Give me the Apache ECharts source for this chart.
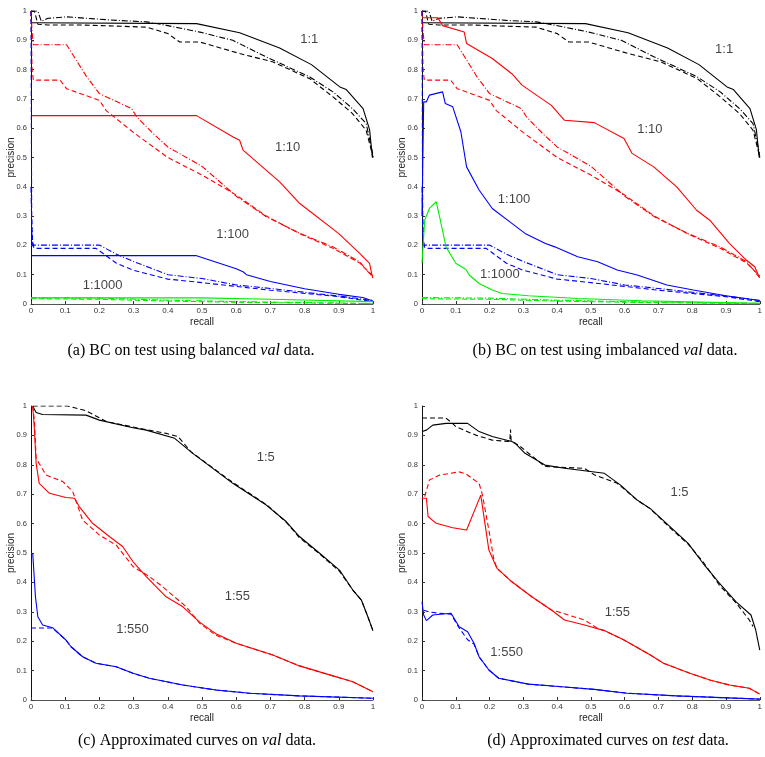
<!DOCTYPE html>
<html><head><meta charset="utf-8">
<script src="https://cdn.jsdelivr.net/npm/echarts@6/dist/echarts.min.js"></script>
<style>html,body{margin:0;padding:0;background:#fff}#c{width:765px;height:757px}</style>
</head><body><div id="c"></div>
<script>
// ---- tick labels ----
const xTicks = [0,0.1,0.2,0.3,0.4,0.5,0.6,0.7,0.8,0.9,1];
const yTicks = [0,0.1,0.2,0.3,0.4,0.5,0.6,0.7,0.8,0.9,1];

// ---- panels (a),(b): shared curves ----
const bcBlackSolid = [[0,0.96],[0.484,0.957],[0.61,0.926],[0.727,0.874],[0.82,0.817],[0.903,0.741],[0.922,0.732],[0.971,0.667],[0.99,0.595],[0.998,0.502],[1,0.5]];
const bcBlackDash = [[0,1],[0.01,1],[0.02,0.955],[0.05,0.952],[0.15,0.952],[0.338,0.945],[0.40,0.923],[0.435,0.894],[0.494,0.894],[0.61,0.855],[0.708,0.826],[0.815,0.769],[0.883,0.707],[0.94,0.65],[0.98,0.593],[0.995,0.525],[1,0.5]];
const bcBlackDashDot = [[0,1],[0.02,1],[0.03,0.965],[0.05,0.975],[0.104,0.98],[0.25,0.968],[0.338,0.963],[0.396,0.951],[0.494,0.928],[0.59,0.9],[0.688,0.843],[0.815,0.775],[0.883,0.724],[0.94,0.667],[0.98,0.616],[0.998,0.52],[1,0.5]];
const bcRedDash = [[0,1],[0.003,0.8],[0.007,0.764],[0.085,0.764],[0.104,0.735],[0.2,0.695],[0.22,0.66],[0.3,0.585],[0.4,0.5],[0.5,0.44],[0.6,0.372],[0.688,0.3],[0.786,0.24],[0.883,0.19],[0.961,0.14],[1,0.095]];
const bcRedDashDot = [[0,1],[0.003,0.93],[0.007,0.885],[0.104,0.885],[0.163,0.775],[0.2,0.718],[0.294,0.667],[0.309,0.639],[0.357,0.582],[0.4,0.536],[0.5,0.47],[0.6,0.368],[0.688,0.298],[0.786,0.241],[0.883,0.195],[0.961,0.144],[1,0.09]];
const bcBlueDash = [[0,1],[0.002,0.3],[0.005,0.2],[0.01,0.19],[0.19,0.19],[0.25,0.139],[0.3,0.115],[0.4,0.085],[0.5,0.073],[0.6,0.06],[0.7,0.047],[0.8,0.036],[0.9,0.025],[1,0.008]];
const bcBlueDashDot = [[0,0.4],[0.003,0.22],[0.007,0.201],[0.2,0.201],[0.25,0.17],[0.3,0.145],[0.4,0.1],[0.5,0.087],[0.6,0.065],[0.7,0.053],[0.8,0.04],[0.9,0.027],[1,0.012]];
const bcGreenDash = [[0,0.018],[0.2,0.016],[0.4,0.01],[0.6,0.006],[1,0.001]];
const bcGreenDashDot = [[0,0.022],[0.2,0.02],[0.4,0.013],[0.6,0.008],[1,0.002]];
// panel (a) solid curves
const aRedSolid = [[0,0.643],[0.484,0.643],[0.591,0.57],[0.61,0.559],[0.62,0.525],[0.727,0.417],[0.786,0.343],[0.9,0.24],[0.961,0.173],[0.99,0.139],[0.998,0.093],[1,0.09]];
const aBlueSolid = [[0,0.165],[0.484,0.165],[0.6,0.12],[0.62,0.11],[0.63,0.1],[0.7,0.077],[0.8,0.052],[0.9,0.033],[0.97,0.022],[1,0.01]];
const aGreenSolid = [[0,0.021],[0.5,0.021],[0.7,0.016],[1,0.008]];
// panel (b) solid curves
const bRedSolid = [[0,0.977],[0.047,0.977],[0.061,0.95],[0.125,0.928],[0.132,0.889],[0.208,0.838],[0.266,0.786],[0.296,0.747],[0.383,0.678],[0.422,0.627],[0.51,0.619],[0.598,0.565],[0.622,0.514],[0.686,0.468],[0.754,0.4],[0.813,0.32],[0.852,0.286],[0.91,0.207],[0.96,0.15],[0.985,0.127],[0.998,0.093],[1,0.09]];
const bBlueSolid = [[0,0.3],[0.005,0.69],[0.013,0.69],[0.022,0.713],[0.061,0.724],[0.069,0.684],[0.091,0.673],[0.115,0.588],[0.132,0.468],[0.169,0.389],[0.208,0.326],[0.266,0.275],[0.305,0.241],[0.364,0.207],[0.393,0.195],[0.461,0.161],[0.52,0.144],[0.578,0.116],[0.637,0.099],[0.725,0.065],[0.803,0.048],[0.9,0.028],[1,0.012]];
const bGreenSolid = [[0,0.139],[0.008,0.286],[0.022,0.326],[0.042,0.349],[0.052,0.298],[0.071,0.195],[0.1,0.139],[0.13,0.118],[0.14,0.099],[0.169,0.07],[0.208,0.048],[0.237,0.036],[0.315,0.028],[0.461,0.019],[0.65,0.011],[1,0.002]];

// ---- panel (c) ----
const cBlackSolid = [[0.005,1],[0.015,0.978],[0.034,0.971],[0.161,0.969],[0.2,0.952],[0.298,0.926],[0.337,0.918],[0.42,0.89],[0.473,0.839],[0.59,0.737],[0.688,0.663],[0.746,0.607],[0.785,0.556],[0.844,0.499],[0.902,0.442],[0.941,0.374],[0.966,0.34],[0.985,0.283],[1,0.235]];
const cBlackDash = [[0.005,1],[0.107,1],[0.161,0.984],[0.22,0.947],[0.317,0.924],[0.395,0.907],[0.43,0.896],[0.468,0.844],[0.59,0.74],[0.688,0.665],[0.746,0.605],[0.785,0.552],[0.844,0.497],[0.902,0.438],[0.941,0.374],[0.966,0.34],[0.985,0.283],[1,0.235]];
const cRedSolid = [[0.005,1],[0.007,0.97],[0.01,0.918],[0.015,0.805],[0.024,0.737],[0.054,0.703],[0.102,0.689],[0.127,0.686],[0.141,0.658],[0.18,0.601],[0.229,0.556],[0.268,0.522],[0.298,0.471],[0.337,0.42],[0.395,0.351],[0.444,0.317],[0.493,0.265],[0.541,0.225],[0.6,0.193],[0.707,0.153],[0.785,0.116],[0.883,0.082],[0.941,0.062],[1,0.028]];
const cRedDash = [[0.005,1],[0.01,0.95],[0.015,0.822],[0.044,0.765],[0.093,0.743],[0.122,0.709],[0.151,0.612],[0.2,0.561],[0.249,0.527],[0.268,0.499],[0.298,0.454],[0.346,0.42],[0.385,0.385],[0.454,0.317],[0.493,0.261],[0.541,0.22],[0.6,0.193],[0.707,0.153],[0.785,0.116],[0.883,0.082],[0.941,0.062],[1,0.028]];
const cBlueSolid = [[0.005,0.499],[0.01,0.499],[0.013,0.351],[0.02,0.283],[0.034,0.255],[0.063,0.246],[0.102,0.204],[0.117,0.181],[0.151,0.147],[0.19,0.125],[0.249,0.113],[0.298,0.091],[0.346,0.074],[0.444,0.051],[0.541,0.034],[0.639,0.023],[0.785,0.014],[1,0.006]];
const cBlueDash = [[0,0.245],[0.063,0.245],[0.102,0.204],[0.117,0.181],[0.151,0.147],[0.19,0.125],[0.249,0.113],[0.298,0.091],[0.346,0.074],[0.444,0.051],[0.541,0.034],[0.639,0.023],[0.785,0.014],[1,0.006]];

// ---- panel (d) ----
const dBlackSolid = [[0,0.913],[0.013,0.918],[0.032,0.935],[0.071,0.941],[0.135,0.941],[0.169,0.913],[0.208,0.896],[0.266,0.879],[0.276,0.873],[0.305,0.839],[0.364,0.799],[0.422,0.788],[0.54,0.771],[0.588,0.731],[0.637,0.68],[0.676,0.651],[0.735,0.589],[0.788,0.533],[0.832,0.465],[0.881,0.397],[0.93,0.334],[0.974,0.289],[0.988,0.238],[1,0.17]];
const dBlackDash = [[0,0.959],[0.071,0.959],[0.086,0.945],[0.1,0.93],[0.159,0.901],[0.208,0.884],[0.26,0.879],[0.262,0.92],[0.264,0.88],[0.286,0.867],[0.364,0.794],[0.481,0.788],[0.51,0.766],[0.578,0.737],[0.637,0.68],[0.676,0.65],[0.735,0.585],[0.788,0.53],[0.832,0.47],[0.881,0.39],[0.93,0.33],[0.969,0.272],[0.98,0.25]];
const dRedSolid = [[0,0.686],[0.013,0.686],[0.018,0.624],[0.042,0.601],[0.091,0.586],[0.132,0.578],[0.174,0.697],[0.179,0.658],[0.198,0.51],[0.222,0.448],[0.266,0.402],[0.325,0.351],[0.383,0.306],[0.422,0.272],[0.481,0.255],[0.54,0.236],[0.598,0.204],[0.676,0.153],[0.715,0.125],[0.793,0.091],[0.852,0.068],[0.91,0.051],[0.969,0.04],[1,0.02]];
const dRedDash = [[0.008,0.692],[0.022,0.748],[0.052,0.765],[0.11,0.776],[0.13,0.769],[0.169,0.737],[0.179,0.697],[0.198,0.578],[0.213,0.476],[0.222,0.448],[0.266,0.402],[0.325,0.351],[0.383,0.306],[0.403,0.3],[0.481,0.272],[0.52,0.244],[0.54,0.236],[0.598,0.204],[0.676,0.153],[0.715,0.125],[0.793,0.091],[0.852,0.068],[0.91,0.051],[0.969,0.04],[1,0.02]];
const dBlueSolid = [[0,0.334],[0.005,0.289],[0.013,0.27],[0.032,0.289],[0.086,0.295],[0.11,0.249],[0.135,0.232],[0.154,0.193],[0.169,0.147],[0.198,0.102],[0.227,0.074],[0.315,0.054],[0.413,0.045],[0.51,0.036],[0.608,0.023],[0.754,0.014],[1,0.003]];
const dBlueDash = [[0.005,0.305],[0.02,0.3],[0.05,0.295],[0.086,0.292],[0.11,0.245],[0.135,0.205],[0.154,0.19],[0.169,0.147],[0.198,0.102],[0.227,0.074],[0.315,0.054],[0.413,0.045],[0.51,0.036],[0.608,0.023],[0.754,0.014],[1,0.003]];

// ---- curve annotations [x, y, text] ----
const labelsA = [[0.815,0.902,'1:1'],[0.752,0.533,'1:10'],[0.591,0.235,'1:100'],[0.211,0.061,'1:1000']];
const labelsB = [[0.896,0.868,'1:1'],[0.676,0.593,'1:10'],[0.274,0.355,'1:100'],[0.232,0.099,'1:1000']];
const labelsC = [[0.688,0.824,'1:5'],[0.605,0.351,'1:55'],[0.298,0.24,'1:550']];
const labelsD = [[0.764,0.706,'1:5'],[0.58,0.295,'1:55'],[0.252,0.159,'1:550']];

// ---- captions ----
const captions = ['(a) BC on test using balanced {i|val} data.','(b) BC on test using imbalanced {i|val} data.','(c) Approximated curves on {i|val} data.','(d) Approximated curves on {i|test} data.'];

const BLACK='#000000', RED='#ff0000', BLUE='#0000ff', GREEN='#00ee00';
const SOLID='solid', DASH=[5,3], DASHDOT=[6,2,1,2];

const grids = [
  {left:31, top:11, width:342, height:293},
  {left:422, top:11, width:342, height:293},
  {left:31, top:406, width:342, height:294},
  {left:422, top:406, width:342, height:294}
];
const captionPos = [[191,351],[605,351],[197,741],[608,741]];

const xAxes = grids.map((g,i)=>({
  type:'value', gridIndex:i, min:0, max:1, interval:0.1,
  name:'recall', nameLocation:'middle', nameGap:13, nameMoveOverlap:false,
  nameTextStyle:{fontSize:10, color:'#222', fontFamily:'Liberation Sans'},
  axisLine:{lineStyle:{color:'#555', width:1}},
  axisTick:{inside:true, length:3, lineStyle:{color:'#333'}},
  axisLabel:{fontSize:8, color:'#333', margin:3, fontFamily:'Liberation Sans',
    formatter:v=>xTicks.includes(Math.round(v*10)/10)?String(Math.round(v*10)/10):''},
  splitLine:{show:false}
}));
const yAxes = grids.map((g,i)=>({
  type:'value', gridIndex:i, min:0, max:1, interval:0.1,
  name:'precision', nameLocation:'middle', nameGap:15, nameMoveOverlap:false,
  nameTextStyle:{fontSize:10, color:'#222', fontFamily:'Liberation Sans'},
  axisLine:{show:true, lineStyle:{color:'#111', width:1}},
  axisTick:{show:true, inside:true, length:3, lineStyle:{color:'#333'}},
  axisLabel:{fontSize:7.5, color:'#333', margin:4, fontFamily:'Liberation Sans',
    formatter:v=>yTicks.includes(Math.round(v*10)/10)?String(Math.round(v*10)/10):''},
  splitLine:{show:false}
}));

const series = [];
function line(idx, data, color, type){
  series.push({type:'line', xAxisIndex:idx, yAxisIndex:idx, data:data, showSymbol:false, symbol:'none',
    lineStyle:{color:color, width:1.1, type:type}, silent:true, z:2, animation:false});
}
function labels(idx, data){
  series.push({type:'scatter', xAxisIndex:idx, yAxisIndex:idx, data:data, symbolSize:1,
    itemStyle:{color:'rgba(0,0,0,0)'}, silent:true, animation:false, z:5,
    label:{show:true, position:[0,0], align:'center', verticalAlign:'middle', formatter:p=>p.value[2],
      fontSize:13, color:'#111', textBorderWidth:0, fontFamily:'Liberation Sans'}});
}
// (a)
line(0,bcBlackDash,BLACK,DASH); line(0,bcBlackDashDot,BLACK,DASHDOT); line(0,bcBlackSolid,BLACK,SOLID);
line(0,bcRedDash,RED,DASH); line(0,bcRedDashDot,RED,DASHDOT); line(0,aRedSolid,RED,SOLID);
line(0,bcBlueDash,BLUE,DASH); line(0,bcBlueDashDot,BLUE,DASHDOT); line(0,aBlueSolid,BLUE,SOLID);
line(0,bcGreenDash,GREEN,DASH); line(0,bcGreenDashDot,GREEN,DASHDOT); line(0,aGreenSolid,GREEN,SOLID);
labels(0,labelsA);
// (b)
line(1,bcBlackDash,BLACK,DASH); line(1,bcBlackDashDot,BLACK,DASHDOT); line(1,bcBlackSolid,BLACK,SOLID);
line(1,bcRedDash,RED,DASH); line(1,bcRedDashDot,RED,DASHDOT); line(1,bRedSolid,RED,SOLID);
line(1,bcBlueDash,BLUE,DASH); line(1,bcBlueDashDot,BLUE,DASHDOT); line(1,bBlueSolid,BLUE,SOLID);
line(1,bcGreenDash,GREEN,DASH); line(1,bcGreenDashDot,GREEN,DASHDOT); line(1,bGreenSolid,GREEN,SOLID);
labels(1,labelsB);
// (c)
line(2,cBlackDash,BLACK,DASH); line(2,cBlackSolid,BLACK,SOLID);
line(2,cRedDash,RED,DASH); line(2,cRedSolid,RED,SOLID);
line(2,cBlueDash,BLUE,DASH); line(2,cBlueSolid,BLUE,SOLID);
labels(2,labelsC);
// (d)
line(3,dBlackDash,BLACK,DASH); line(3,dBlackSolid,BLACK,SOLID);
line(3,dRedDash,RED,DASH); line(3,dRedSolid,RED,SOLID);
line(3,dBlueDash,BLUE,DASH); line(3,dBlueSolid,BLUE,SOLID);
labels(3,labelsD);

const graphic = captions.map((t,i)=>({
  type:'text', x:captionPos[i][0], y:captionPos[i][1], silent:true,
  style:{text:t, fontSize:16, fontFamily:'Liberation Serif', fill:'#000', align:'center', verticalAlign:'middle',
    rich:{i:{fontSize:16, fontFamily:'Liberation Serif', fontStyle:'italic', fill:'#000'}}}
}));

const chart = echarts.init(document.getElementById('c'), null, {renderer:'canvas'});
chart.setOption({animation:false, backgroundColor:'#fff', grid:grids, xAxis:xAxes, yAxis:yAxes, series:series, graphic:graphic});
</script></body></html>
